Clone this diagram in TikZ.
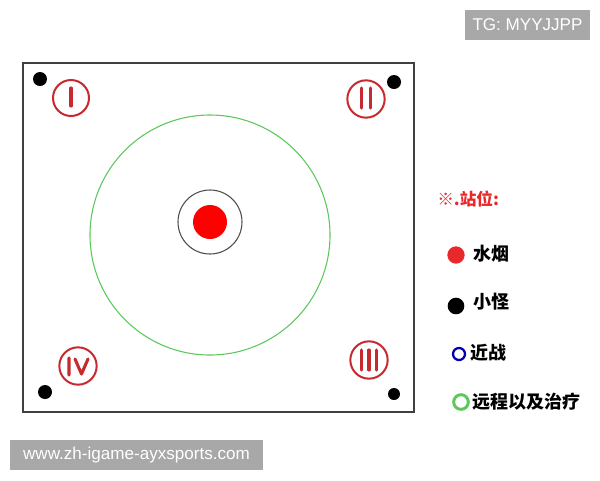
\documentclass[tikz,border=0pt]{standalone}
\usepackage{fontspec}
\setmainfont{Liberation Sans}
\newfontfamily\cjk{Noto Sans CJK SC}
\begin{document}
\begin{tikzpicture}[x=0.75pt,y=-0.75pt,
  dot/.style={circle,fill=black,inner sep=0pt,minimum size=10.5pt},
  roman/.style={circle,draw=romanred,line width=1.5pt,inner sep=0pt,minimum size=28pt},
  numstroke/.style={draw=romanred,line width=2.3pt,line cap=round,line join=round},
  legtext/.style={anchor=west,font=\cjk\bfseries\fontsize{13.5}{13.5}\selectfont},
  wm/.style={fill=wmgray,text=white,inner sep=0pt,font=\fontsize{12.8}{12.8}\selectfont}]
\definecolor{romanred}{HTML}{C62A2F}
\definecolor{wmgray}{HTML}{A8A8A8}
\definecolor{ringgreen}{HTML}{5CC85C}
\definecolor{legred}{HTML}{E8282A}
\useasboundingbox (0,0) rectangle (600,480);
\fill[white] (0,0) rectangle (600,480);
% board
\draw[line width=1.1pt,draw=black!75] (23,63) rectangle (414,412);
% corner minions
\node[dot] (m1) at (40,79) {};
\node[dot] (m2) at (394,82) {};
\node[dot] (m3) at (45,392) {};
\node[dot,minimum size=9pt] (m4) at (394,394) {};
% roman numerals
\node[roman,minimum size=27pt] (r1) at (71,98) {};
\node[roman] (r2) at (366,99) {};
\node[roman] (r4) at (78,366) {};
\node[roman] (r3) at (369,360) {};
\draw[numstroke,shift={(r1)}] (0,-10) -- (0,8);
\draw[numstroke,shift={(r2)}] (-4.5,-11) -- (-4.5,9) (4.5,-11) -- (4.5,9);
\draw[numstroke,shift={(r3)}] (-7.5,-10) -- (-7.5,10) (0,-10) -- (0,10) (7.5,-10) -- (7.5,10);
\draw[numstroke,shift={(r4)}] (-9,-8) -- (-9,9) (-3,-7) -- (3.5,8) -- (10,-7);
% rings
\node[circle,draw=ringgreen,line width=0.8pt,minimum size=180pt,inner sep=0pt] (green) at (210,235) {};
\node[circle,draw=black!70,line width=0.8pt,minimum size=48pt,inner sep=0pt] (gray) at (210,222) {};
\node[circle,fill=red,inner sep=0pt,minimum size=25.5pt] (smoke) at (210,222) {};
% legend
\node[anchor=west,text=legred,font=\cjk\bfseries\fontsize{12.5}{12.5}\selectfont,inner sep=0pt] (title) at (437,199) {※.站位:};
\node[circle,fill=legred,inner sep=0pt,minimum size=13pt] (l1) at (456,255) {};
\node[legtext,inner sep=0pt] (t1) at (473,254) {水烟};
\node[circle,fill=black,inner sep=0pt,minimum size=12.5pt] (l2) at (456,306) {};
\node[legtext,inner sep=0pt] (t2) at (473,302) {小怪};
\node[circle,draw=blue!70!black,line width=1.7pt,inner sep=0pt,minimum size=9pt] (l3) at (459,354) {};
\node[legtext,inner sep=0pt] (t3) at (470,353) {近战};
\node[circle,draw=ringgreen,line width=2.2pt,inner sep=0pt,minimum size=11pt] (l4) at (461,402) {};
\node[legtext,inner sep=0pt] (t4) at (472,402) {远程以及治疗};
% watermarks
\node[wm,minimum width=93.75pt,minimum height=22.5pt] (tg) at (527.5,25) {TG: MYYJJPP};
\node[wm,minimum width=189.75pt,minimum height=22.5pt] (url) at (136.5,455) {www.zh-igame-ayxsports.com};
\end{tikzpicture}
\end{document}
